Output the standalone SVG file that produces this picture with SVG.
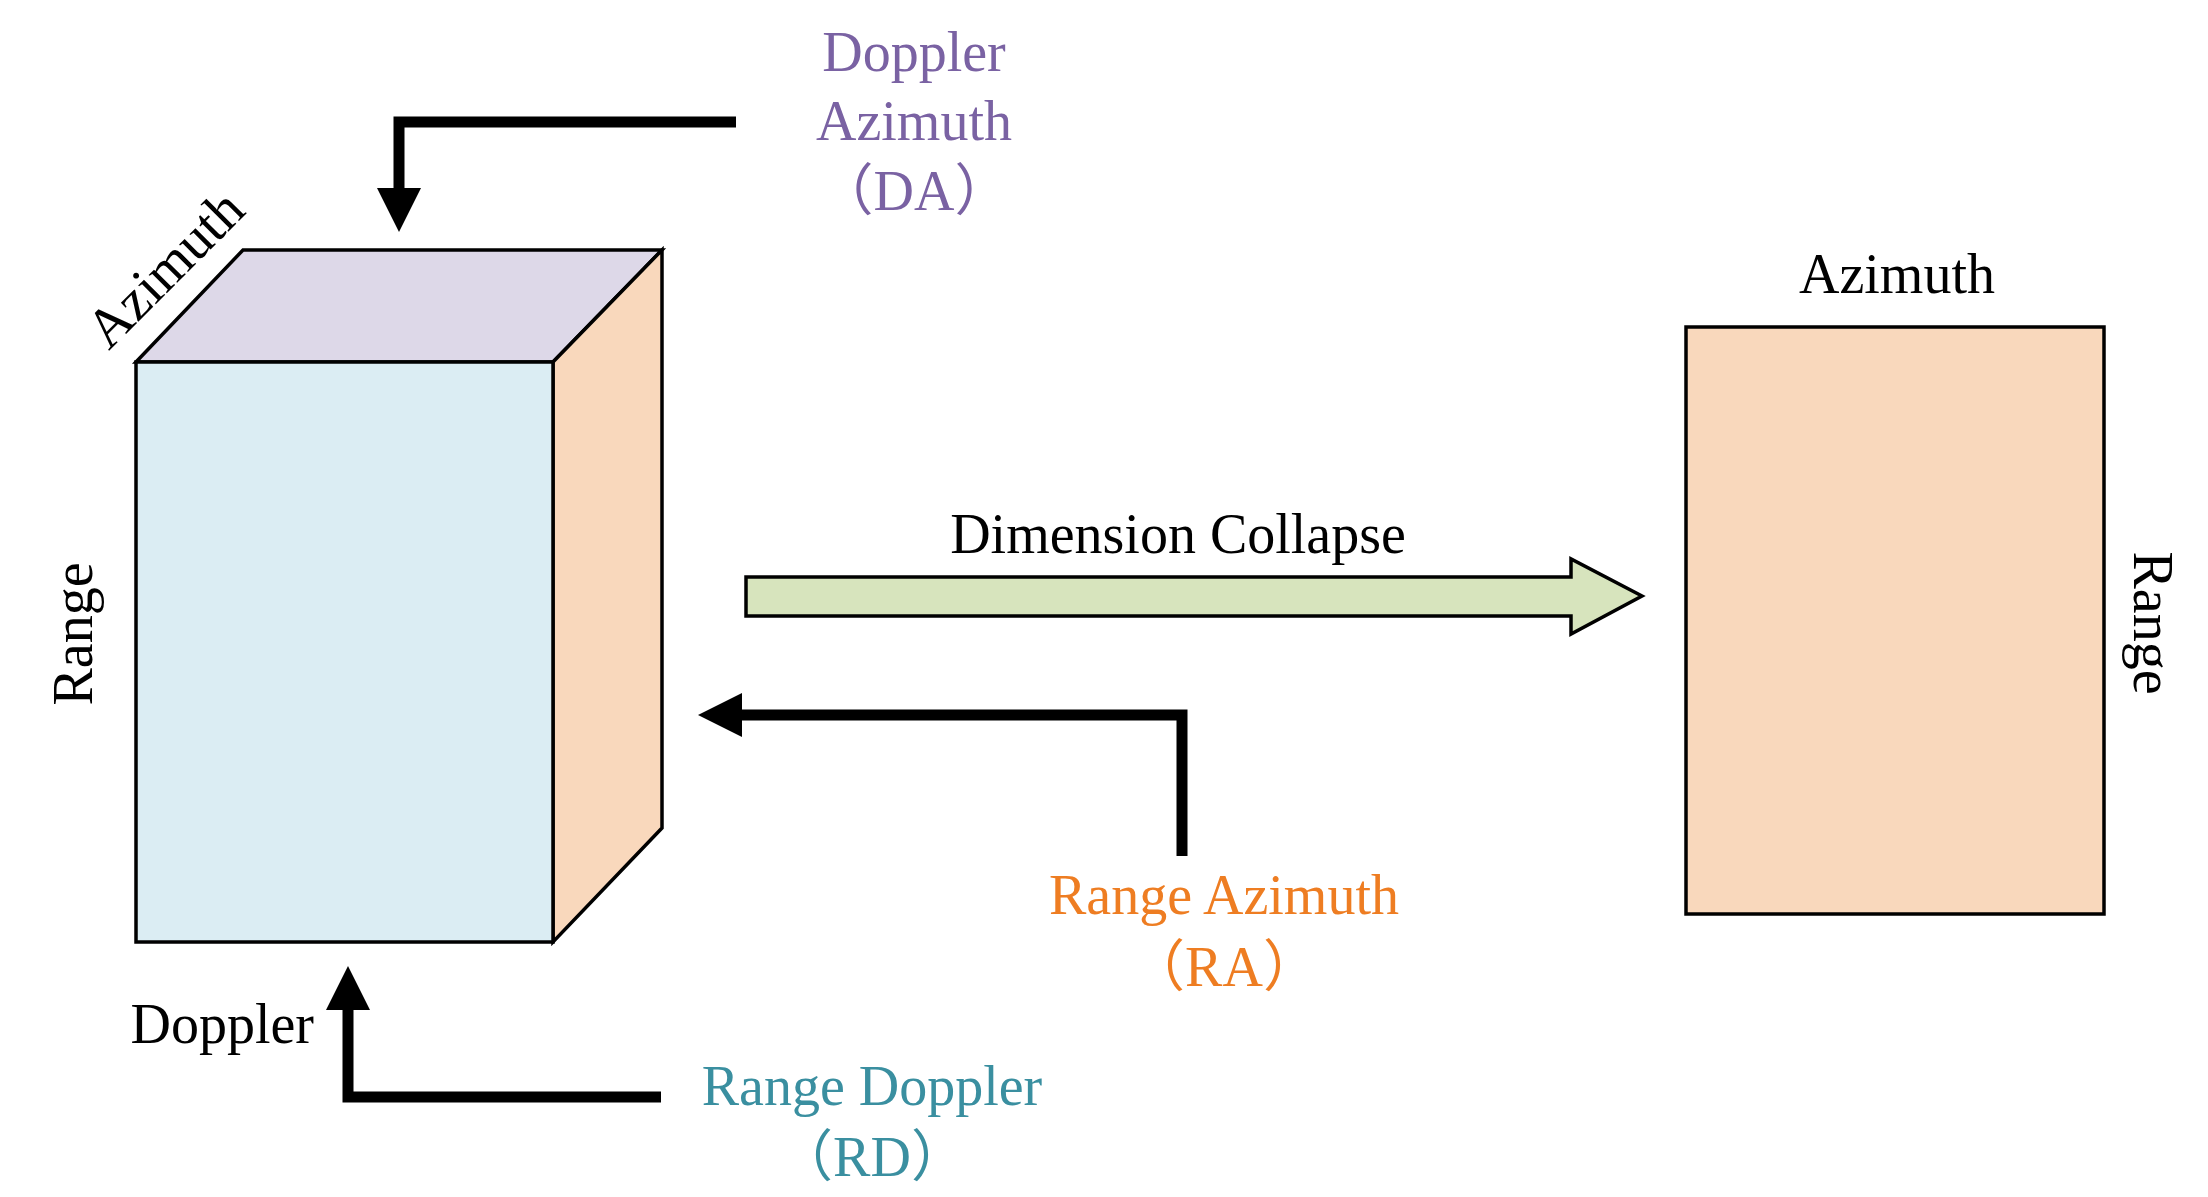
<svg xmlns="http://www.w3.org/2000/svg" width="2208" height="1197" viewBox="0 0 2208 1197">
<style>
text{font-family:"Liberation Serif","Noto Sans CJK SC",serif;font-size:56px}
.f{stroke:#000;stroke-width:3.5;stroke-linejoin:miter}
.a{fill:none;stroke:#000;stroke-width:11}
</style>
<defs><marker id="ah" markerWidth="4" markerHeight="4" refX="2" refY="2" orient="auto" markerUnits="strokeWidth"><path d="M0,0L4,2L0,4Z" fill="#000"/></marker></defs>
<rect width="2208" height="1197" fill="#fff"/>
<g id="cube">
<polygon class="f" points="136,362 243,250 662,250 553,362" fill="#ddd8e8"/>
<polygon class="f" points="553,362 662,250 662,828 553,942" fill="#f9d8bc"/>
<rect class="f" x="136" y="362" width="417" height="580" fill="#dbedf3"/>
<text transform="translate(178,282) rotate(-45)" text-anchor="middle">Azimuth</text>
<text transform="translate(92,634) rotate(-90)" text-anchor="middle">Range</text>
<text x="314" y="1043" text-anchor="end">Doppler</text>
</g>
<g id="plane">
<rect class="f" x="1686" y="327" width="418" height="587" fill="#f9d8bc"/>
<text x="1897" y="293" text-anchor="middle">Azimuth</text>
<text transform="translate(2134,623) rotate(90)" text-anchor="middle">Range</text>
</g>
<g id="collapse">
<polygon class="f" points="746,577 1571,577 1571,559 1642,596 1571,634 1571,616 746,616" fill="#d7e4bd" stroke-width="3"/>
<text x="1178" y="553" text-anchor="middle">Dimension Collapse</text>
</g>
<g id="connectors">
<polyline class="a" points="736,122 399,122 399,210" marker-end="url(#ah)"/>
<polyline class="a" points="1182,856 1182,715 720,715" marker-end="url(#ah)"/>
<polyline class="a" points="661,1097 348,1097 348,988" marker-end="url(#ah)"/>
</g>
<g id="da" fill="#7a62a3">
<text x="914" y="71" text-anchor="middle">Doppler</text>
<text x="914" y="140" text-anchor="middle">Azimuth</text>
<text x="914" y="210" text-anchor="middle">（DA）</text>
</g>
<g id="ra" fill="#ee7d22">
<text x="1224" y="914" text-anchor="middle">Range Azimuth</text>
<text x="1224" y="986" text-anchor="middle">（RA）</text>
</g>
<g id="rd" fill="#3a8fa0">
<text x="872" y="1105" text-anchor="middle">Range Doppler</text>
<text x="872" y="1176" text-anchor="middle">（RD）</text>
</g>
</svg>
